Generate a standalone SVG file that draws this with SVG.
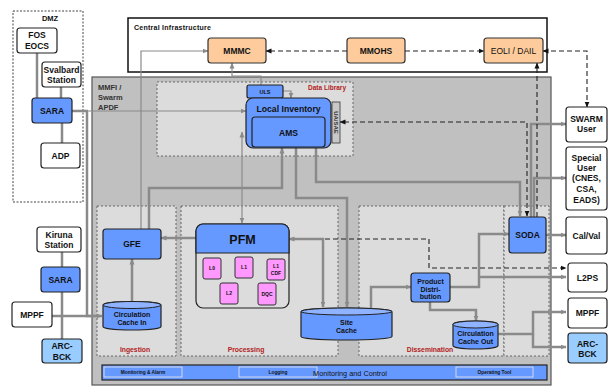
<svg xmlns="http://www.w3.org/2000/svg" width="609" height="387" viewBox="0 0 609 387">
<style>
text{font-family:"Liberation Sans",Arial,sans-serif;font-weight:bold;fill:#111;text-anchor:middle}
.n{fill:#fff;stroke:#222;stroke-width:1.2}
.b{fill:#6699FF;stroke:#222;stroke-width:1.2}
.lb{fill:#99CCFF;stroke:#222;stroke-width:1.2}
.o{fill:#FDCB9C;stroke:#333;stroke-width:1.2}
.p{fill:#FF99FF;stroke:#333;stroke-width:1}
.reg{fill:#DCDCDC;stroke:#666;stroke-width:1;stroke-dasharray:2,2}
.t{font-size:8.5px}
.s{font-size:7px}
.xs{font-size:5px}
.red{fill:#B22222;font-size:6.8px}
.g{fill:none;stroke:#8A8A8A;stroke-width:1.2}
.G{fill:none;stroke:#8A8A8A;stroke-width:2.5}
.d{fill:none;stroke:#222;stroke-width:1.1;stroke-dasharray:5,3}
.ag{marker-end:url(#ag)}
.ak{marker-end:url(#ak)}
.bg{marker-start:url(#ag);marker-end:url(#ag)}
.bk{marker-start:url(#ak);marker-end:url(#ak)}
</style>
<defs>
<marker id="ag" markerWidth="6" markerHeight="6" refX="5.5" refY="3" orient="auto-start-reverse" markerUnits="userSpaceOnUse"><path d="M0,0.5 L6,3 L0,5.5 z" fill="#8A8A8A"/></marker>
<marker id="ak" markerWidth="6" markerHeight="6" refX="5.5" refY="3" orient="auto-start-reverse" markerUnits="userSpaceOnUse"><path d="M0,0.5 L6,3 L0,5.5 z" fill="#111"/></marker>
</defs>
<rect width="609" height="387" fill="#fff"/>

<!-- containers -->
<g id="dmz">
<rect x="13" y="11" width="70" height="191" fill="#fff" stroke="#444" stroke-width="1" stroke-dasharray="2,1.5"/>
<text x="50" y="21" style="font-size:7.5px">DMZ</text>
</g>
<g id="central">
<rect x="128" y="18" width="419" height="54" fill="#fff" stroke="#111" stroke-width="1.5"/>
<text x="134" y="30" style="font-size:7px;text-anchor:start" textLength="77">Central Infrastructure</text>
</g>
<g id="apdf">
<rect x="92" y="77" width="459" height="308" fill="#C0C0C0" stroke="#555" stroke-width="1.2"/>
<text x="98" y="89.5" style="font-size:7.5px;text-anchor:start;fill:#333">MMFI /</text>
<text x="98" y="99.5" style="font-size:7.5px;text-anchor:start;fill:#333">Swarm</text>
<text x="98" y="109.5" style="font-size:7.5px;text-anchor:start;fill:#333">APDF</text>
</g>
<g id="datalib">
<rect class="reg" x="157" y="82" width="196" height="74"/>
<text class="red" x="346" y="90" style="text-anchor:end;font-size:6.5px">Data Library</text>
</g>
<g id="ingestion"><rect class="reg" x="97" y="206" width="79" height="150"/><text class="red" x="135" y="351.5">Ingestion</text></g>
<g id="processing"><rect class="reg" x="181" y="206" width="157" height="150"/><text class="red" x="246" y="351.5">Processing</text></g>
<g id="dissemination"><rect class="reg" x="359" y="206" width="145" height="150"/><text class="red" x="430" y="351.5">Dissemination</text></g>
<g id="sodaarea"><rect class="reg" x="504" y="206" width="45" height="150"/></g>

<!-- connectors -->
<g id="connectors">
<path class="G" d="M37,53 V98 M61,87 V98 M62,123 V143"/>
<path class="G" d="M62,252 V267 M62,292 V339"/>
<path class="G ag" d="M52,316 H102"/>
<path class="G" d="M72,111 H88 M87,111 V316 H95"/>
<path class="g ag" d="M88,111 H246"/>
<path class="g ag" d="M141,229 V51 H208"/>
<path class="g ag" d="M261,85 V76 H232 V63"/>
<path class="g ag" d="M283,91 H291 V98"/>
<path class="g bg" d="M242,132 V223"/>
<path class="G ag" d="M149,229 V188 H282 V148"/>
<path class="G ag" d="M296,148 V198 H347 V307"/>
<path class="G ag" d="M316,148 V182 H520 V216"/>
<path class="G ag" d="M196,238 H161"/>
<path class="G bg" d="M323,307 V239 H289"/>
<path class="G ag" d="M132,302 V259"/>
<path class="G ag" d="M371,308 V287 H411"/>
<path class="G ag" d="M450,287 H479 V234 H509"/>
<path class="G ag" d="M479,277 H566"/>
<path class="G ag" d="M430,302 V310 H476 V321"/>
<path class="G ag" d="M498,334 H533 V312 H566"/>
<path class="G ag" d="M533,334 V347 H566"/>
<path class="G ag" d="M546,235 H566"/>
<path class="G ag" d="M531,217 V124 H566"/>
<path class="G ag" d="M534,217 V178 H566"/>
<path class="d ak" d="M347,51 H266"/>
<path class="d ak" d="M405,51 H484"/>
<path class="d bk" d="M543,51 H587 V107"/>
<path class="d bk" d="M527,216 V122 H340"/>
<path class="d ak" d="M537,217 V63"/>
<path class="d ak" d="M325,239 H429 V268 H566"/>
</g>

<!-- DMZ nodes -->
<g id="fos"><rect class="n" x="17" y="28" width="40" height="25" rx="3"/><text class="t" x="37" y="38">FOS</text><text class="t" x="37" y="49">EOCS</text></g>
<g id="svalbard"><rect class="n" x="42" y="62" width="39" height="25" rx="3"/><text class="t" x="61.5" y="73">Svalbard</text><text class="t" x="61.5" y="83">Station</text></g>
<g id="sara1"><rect class="b" x="32" y="98" width="40" height="25" rx="3"/><text class="t" x="52" y="113.5">SARA</text></g>
<g id="adp"><rect class="n" x="41" y="143" width="39" height="25" rx="3"/><text class="t" x="60.5" y="158.5">ADP</text></g>

<!-- left lower nodes -->
<g id="kiruna"><rect class="n" x="37" y="227" width="44" height="25" rx="3"/><text class="t" x="59" y="238">Kiruna</text><text class="t" x="59" y="247.5">Station</text></g>
<g id="sara2"><rect class="b" x="41" y="267" width="39" height="25" rx="3"/><text class="t" x="60.5" y="282.5">SARA</text></g>
<g id="mppf1"><rect class="n" x="12" y="302" width="40" height="25" rx="3"/><text class="t" x="32" y="317.5">MPPF</text></g>
<g id="arc1"><rect class="lb" x="42" y="339" width="40" height="24" rx="3"/><text class="t" x="62" y="348.5">ARC-</text><text class="t" x="62" y="359.5">BCK</text></g>

<!-- central infrastructure -->
<g id="mmmc"><rect class="o" x="208" y="38" width="58" height="25" rx="3"/><text class="t" x="237" y="53.5">MMMC</text></g>
<g id="mmohs"><rect class="o" x="347" y="38" width="58" height="25" rx="3"/><text class="t" x="376" y="53.5">MMOHS</text></g>
<g id="eoli"><rect class="o" x="484" y="38" width="59" height="25" rx="3"/><text class="t" x="513.5" y="53.5" style="font-weight:normal">EOLI / DAIL</text></g>

<!-- data library -->
<g id="uls"><rect class="b" x="247" y="85" width="36" height="13" rx="2"/><text class="xs" x="265" y="93.5" style="font-size:5.5px">ULS</text></g>
<g id="localinv"><rect class="b" x="246" y="98" width="85" height="50" rx="7"/><text x="288.5" y="112" style="font-size:8.7px">Local Inventory</text></g>
<g id="ams"><rect class="b" x="252" y="117" width="73" height="30" rx="3"/><text class="t" x="288.5" y="135.5">AMS</text></g>
<g id="uasae"><rect x="332" y="102" width="8" height="41" fill="#C8C8C8" stroke="#333" stroke-width="0.8"/><text x="336" y="122.5" transform="rotate(90 336 122.5)" style="font-size:6px;fill:#333" dy="2.1">UA/SAE</text></g>

<!-- ingestion -->
<g id="gfe"><rect class="b" x="103" y="229" width="58" height="30" rx="3"/><text class="t" x="132" y="247">GFE</text></g>
<g id="cachein">
<path class="b" d="M103,305 A29,3.5 0 0 1 161,305 V326.5 A29,3.5 0 0 1 103,326.5 Z"/>
<ellipse cx="132" cy="305" rx="29" ry="3.5" fill="#8FB3FF" stroke="#222" stroke-width="1"/>
<text class="s" x="132" y="317">Circulation</text><text class="s" x="132" y="325">Cache In</text>
</g>

<!-- processing -->
<g id="pfm">
<rect x="196" y="224" width="93" height="84" rx="7" fill="#DCDCDC" stroke="#222" stroke-width="1.2"/>
<path d="M196,253 V231 A7,7 0 0 1 203,224 H282 A7,7 0 0 1 289,231 V253 Z" fill="#6699FF" stroke="#222" stroke-width="1.2"/>
<text x="242.5" y="243.5" style="font-size:12.5px">PFM</text>
</g>
<g id="l0"><rect class="p" x="203" y="258" width="18" height="21" rx="2"/><text class="xs" x="212" y="270">L0</text></g>
<g id="l1"><rect class="p" x="235" y="257" width="18" height="21" rx="2"/><text class="xs" x="244" y="269">L1</text></g>
<g id="l1cdf"><rect class="p" x="267" y="259" width="18" height="21" rx="2"/><text class="xs" x="276" y="267.5">L1</text><text class="xs" x="276" y="274.5">CDF</text></g>
<g id="l2"><rect class="p" x="220" y="283" width="18" height="21" rx="2"/><text class="xs" x="229" y="295">L2</text></g>
<g id="dqc"><rect class="p" x="258" y="283" width="18" height="22" rx="2"/><text class="xs" x="267" y="295.5">DQC</text></g>

<!-- site cache -->
<g id="sitecache">
<path class="b" d="M301,311.5 A45.5,3.5 0 0 1 392,311.5 V336.5 A45.5,3.5 0 0 1 301,336.5 Z"/>
<ellipse cx="346.5" cy="311.5" rx="45.5" ry="3.5" fill="#8FB3FF" stroke="#222" stroke-width="1"/>
<text class="s" x="346.5" y="325">Site</text><text class="s" x="346.5" y="333">Cache</text>
</g>

<!-- dissemination -->
<g id="proddist"><rect class="b" x="411" y="273" width="39" height="29" rx="3"/><text class="s" x="430.5" y="283.5">Product</text><text class="s" x="430.5" y="291.5">Distri-</text><text class="s" x="430.5" y="299">bution</text></g>
<g id="cacheout">
<path class="b" d="M453,324.5 A22.5,3.5 0 0 1 498,324.5 V345.5 A22.5,3.5 0 0 1 453,345.5 Z"/>
<ellipse cx="475.5" cy="324.5" rx="22.5" ry="3.5" fill="#8FB3FF" stroke="#222" stroke-width="1"/>
<text class="s" x="475.5" y="336">Circulation</text><text class="s" x="475.5" y="344">Cache Out</text>
</g>
<g id="soda"><rect class="b" x="509" y="217" width="37" height="36" rx="3"/><text class="t" x="527.5" y="238">SODA</text></g>

<!-- monitoring -->
<g id="monitoring">
<rect x="102" y="365" width="445" height="15" fill="#6699FF" stroke="#222" stroke-width="1.2"/>
<rect x="104" y="367" width="78" height="10" fill="#6699FF" stroke="#E8E8E8" stroke-width="0.8"/>
<rect x="239" y="367" width="78" height="10" fill="#6699FF" stroke="#E8E8E8" stroke-width="0.8"/>
<rect x="456" y="367" width="77" height="10" fill="#6699FF" stroke="#E8E8E8" stroke-width="0.8"/>
<text x="143" y="374" style="font-size:4.8px">Monitoring &amp; Alarm</text>
<text x="278" y="374" style="font-size:4.8px">Logging</text>
<text x="494.5" y="374" style="font-size:4.8px">Operating Tool</text>
<text x="350" y="375.5" style="font-size:7.3px;font-weight:normal">Monitoring and Control</text>
</g>

<!-- right side users -->
<g id="swarmuser"><rect class="n" x="566" y="107" width="41" height="35" rx="3"/><text class="t" x="586.5" y="122">SWARM</text><text class="t" x="586.5" y="132">User</text></g>
<g id="specialuser"><rect class="n" x="566" y="147" width="41" height="63" rx="3"/>
<text class="t" x="586.5" y="161">Special</text><text class="t" x="586.5" y="170.5">User</text><text class="t" x="586.5" y="181">(CNES,</text><text class="t" x="586.5" y="192">CSA,</text><text class="t" x="586.5" y="203">EADS)</text></g>
<g id="calval"><rect class="n" x="566" y="217" width="41" height="37" rx="3"/><text class="t" x="586.5" y="238.5">Cal/Val</text></g>
<g id="l2ps"><rect class="n" x="568" y="263" width="39" height="29" rx="3"/><text class="t" x="587.5" y="280.5">L2PS</text></g>
<g id="mppf2"><rect class="n" x="568" y="298" width="39" height="30" rx="3"/><text class="t" x="587.5" y="316">MPPF</text></g>
<g id="arc2"><rect class="lb" x="568" y="333" width="39" height="30" rx="3"/><text class="t" x="587.5" y="346.5">ARC-</text><text class="t" x="587.5" y="356.5">BCK</text></g>
</svg>
